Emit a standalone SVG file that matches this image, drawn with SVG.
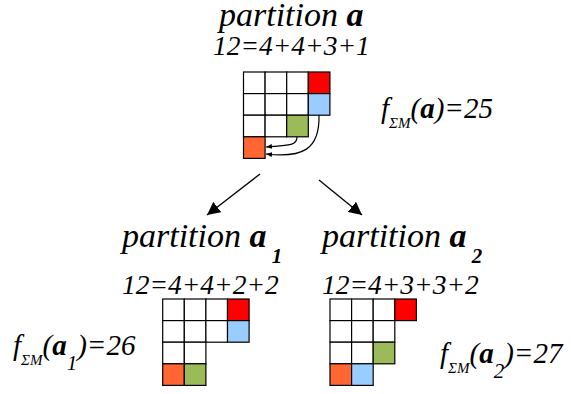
<svg xmlns="http://www.w3.org/2000/svg" width="571" height="394" viewBox="0 0 571 394">
<defs>
<marker id="big" viewBox="0 0 10 10" refX="10" refY="5" markerWidth="13" markerHeight="13" markerUnits="userSpaceOnUse" orient="auto"><path d="M0,0 L10,5 L0,10 z" fill="#000"/></marker>
<marker id="small" viewBox="0 0 10 10" refX="10" refY="5" markerWidth="6" markerHeight="6" markerUnits="userSpaceOnUse" orient="auto"><path d="M0,1 L10,5 L0,9 z" fill="#000"/></marker>
</defs>
<style>
rect{stroke:#000;stroke-width:1.2;fill:#fff}
.r{fill:#FF0000}.bl{fill:#99CCFF}.g{fill:#9BBB59}.o{fill:#FF6633}
.c{fill:none;stroke:#000;stroke-width:1.2}
</style>
<g id="node-a">
<text style="font-family:'Liberation Serif','Times New Roman',serif;font-style:italic;font-size:34px" x="219" y="26">partition <tspan font-weight="bold">a</tspan></text>
<text style="font-family:'Liberation Serif','Times New Roman',serif;font-style:italic;font-size:27.5px" x="213" y="54.5">12=4+4+3+1</text>
<g transform="translate(243.5,72)">
<rect x="0" y="0" width="21.6" height="21.6"/><rect x="21.6" y="0" width="21.6" height="21.6"/><rect x="43.2" y="0" width="21.6" height="21.6"/><rect class="r" x="64.8" y="0" width="21.6" height="21.6"/>
<rect x="0" y="21.6" width="21.6" height="21.6"/><rect x="21.6" y="21.6" width="21.6" height="21.6"/><rect x="43.2" y="21.6" width="21.6" height="21.6"/><rect class="bl" x="64.8" y="21.6" width="21.6" height="21.6"/>
<rect x="0" y="43.2" width="21.6" height="21.6"/><rect x="21.6" y="43.2" width="21.6" height="21.6"/><rect class="g" x="43.2" y="43.2" width="21.6" height="21.6"/>
<rect class="o" x="0" y="64.8" width="21.6" height="21.6"/>
</g>
<text style="font-family:'Liberation Serif','Times New Roman',serif;font-style:italic;font-size:29px" x="381" y="118">f<tspan font-size="15" dy="10">&#931;M</tspan><tspan dy="-10">(</tspan><tspan font-weight="bold">a</tspan>)=25</text>
</g>
<g id="node-a1">
<text style="font-family:'Liberation Serif','Times New Roman',serif;font-style:italic;font-size:34px" x="122" y="247">partition <tspan font-weight="bold">a</tspan><tspan font-size="21" font-weight="bold" dy="16"> 1</tspan></text>
<text style="font-family:'Liberation Serif','Times New Roman',serif;font-style:italic;font-size:27.5px" x="122" y="293.5">12=4+4+2+2</text>
<g transform="translate(162.7,299)">
<rect x="0" y="0" width="21.6" height="21.6"/><rect x="21.6" y="0" width="21.6" height="21.6"/><rect x="43.2" y="0" width="21.6" height="21.6"/><rect class="r" x="64.8" y="0" width="21.6" height="21.6"/>
<rect x="0" y="21.6" width="21.6" height="21.6"/><rect x="21.6" y="21.6" width="21.6" height="21.6"/><rect x="43.2" y="21.6" width="21.6" height="21.6"/><rect class="bl" x="64.8" y="21.6" width="21.6" height="21.6"/>
<rect x="0" y="43.2" width="21.6" height="21.6"/><rect x="21.6" y="43.2" width="21.6" height="21.6"/>
<rect class="o" x="0" y="64.8" width="21.6" height="21.6"/><rect class="g" x="21.6" y="64.8" width="21.6" height="21.6"/>
</g>
<text style="font-family:'Liberation Serif','Times New Roman',serif;font-style:italic;font-size:29px" x="13" y="355">f<tspan font-size="15" dy="10">&#931;M</tspan><tspan dy="-10">(</tspan><tspan font-weight="bold">a</tspan><tspan font-size="21" dy="15">1</tspan><tspan dy="-15">)=26</tspan></text>
</g>
<g id="node-a2">
<text style="font-family:'Liberation Serif','Times New Roman',serif;font-style:italic;font-size:34px" x="322" y="247">partition <tspan font-weight="bold">a</tspan><tspan font-size="21" font-weight="bold" dy="16"> 2</tspan></text>
<text style="font-family:'Liberation Serif','Times New Roman',serif;font-style:italic;font-size:27.5px" x="322" y="293.5">12=4+3+3+2</text>
<g transform="translate(330,299)">
<rect x="0" y="0" width="21.6" height="21.6"/><rect x="21.6" y="0" width="21.6" height="21.6"/><rect x="43.2" y="0" width="21.6" height="21.6"/><rect class="r" x="64.8" y="0" width="21.6" height="21.6"/>
<rect x="0" y="21.6" width="21.6" height="21.6"/><rect x="21.6" y="21.6" width="21.6" height="21.6"/><rect x="43.2" y="21.6" width="21.6" height="21.6"/>
<rect x="0" y="43.2" width="21.6" height="21.6"/><rect x="21.6" y="43.2" width="21.6" height="21.6"/><rect class="g" x="43.2" y="43.2" width="21.6" height="21.6"/>
<rect class="o" x="0" y="64.8" width="21.6" height="21.6"/><rect class="bl" x="21.6" y="64.8" width="21.6" height="21.6"/>
</g>
<text style="font-family:'Liberation Serif','Times New Roman',serif;font-style:italic;font-size:29px" x="440" y="363">f<tspan font-size="15" dy="10">&#931;M</tspan><tspan dy="-10">(</tspan><tspan font-weight="bold">a</tspan><tspan font-size="21" dy="15">2</tspan><tspan dy="-15">)=27</tspan></text>
</g>
<g id="connectors">
<path class="c" d="M297,137 C297,147 285,145 266,147" marker-end="url(#small)"/>
<path class="c" d="M319,115 C320,150 302,158 266,154" marker-end="url(#small)"/>
<line x1="260" y1="174" x2="207" y2="215" stroke="#000" stroke-width="1.3" marker-end="url(#big)"/>
<line x1="319" y1="180" x2="362" y2="215" stroke="#000" stroke-width="1.3" marker-end="url(#big)"/>
</g>
</svg>
